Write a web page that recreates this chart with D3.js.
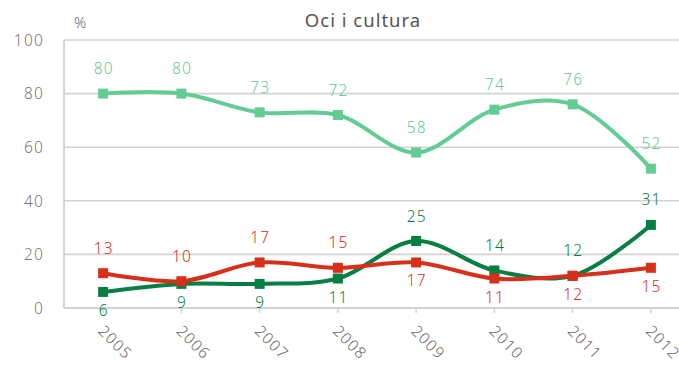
<!DOCTYPE html>
<html>
<head>
<meta charset="utf-8">
<script src="https://cdn.jsdelivr.net/npm/d3@7"></script>
<style>
  html, body { margin: 0; padding: 0; background: #fff; }
  svg { display: block; font-family: "Noto Sans", "DejaVu Sans", sans-serif; font-weight: 300; }
</style>
</head>
<body>
<svg id="chart" width="679" height="365"></svg>
<script>
// Categories and series
const years = ["2005", "2006", "2007", "2008", "2009", "2010", "2011", "2012"];
const lightGreen = [80, 80, 73, 72, 58, 74, 76, 52];
const darkGreen = [6, 9, 9, 11, 25, 14, 12, 31];
const red = [13, 10, 17, 15, 17, 11, 12, 15];
// label placement per point: 1 = above, -1 = below
const lightGreenPos = [1, 1, 1, 1, 1, 1, 1, 1];
const darkGreenPos = [-1, -1, -1, -1, 1, 1, 1, 1];
const redPos = [1, 1, 1, 1, -1, -1, -1, -1];
const yTicks = [0, 20, 40, 60, 80, 100];

// drawing order: later series sit on top
const series = [
  { values: lightGreen, pos: lightGreenPos, color: "#62cc94" },
  { values: darkGreen, pos: darkGreenPos, color: "#077e44" },
  { values: red, pos: redPos, color: "#d7301a" }
];

const svg = d3.select("#chart");
const plotLeft = 64, plotRight = 690, plotTop = 40, plotBottom = 308;
const fs = 15.5, ls = 1.2;

const x = d3.scalePoint().domain(years).range([plotLeft, plotRight]).padding(0.5);
const y = d3.scaleLinear().domain([0, 100]).range([plotBottom, plotTop]);

// title and unit
svg.append("text").attr("x", 363).attr("y", 27).attr("text-anchor", "middle")
  .attr("font-size", 18.5).attr("font-weight", 400).attr("letter-spacing", 1)
  .attr("fill", "#555").text("Oci i cultura");
svg.append("text").attr("x", 80).attr("y", 28).attr("text-anchor", "middle")
  .attr("font-size", 15).attr("fill", "#666").text("%");

// horizontal gridlines
svg.append("g").selectAll("line").data(yTicks).join("line")
  .attr("x1", plotLeft).attr("x2", 679)
  .attr("y1", d => y(d)).attr("y2", d => y(d))
  .attr("stroke", "#d3d3d3").attr("stroke-width", d => d === 0 ? 2.2 : 1.6);

// vertical axis line
svg.append("line").attr("x1", plotLeft).attr("x2", plotLeft)
  .attr("y1", y(100)).attr("y2", y(0))
  .attr("stroke", "#d3d3d3").attr("stroke-width", 2);

// y tick labels
svg.append("g").selectAll("text").data(yTicks).join("text")
  .attr("x", 44).attr("y", d => y(d) + 5.7).attr("text-anchor", "end")
  .attr("font-size", fs).attr("letter-spacing", ls).attr("fill", "#777").text(d => d);

// x tick marks
svg.append("g").selectAll("line").data(years).join("line")
  .attr("x1", d => x(d)).attr("x2", d => x(d))
  .attr("y1", plotBottom).attr("y2", plotBottom + 5)
  .attr("stroke", "#d3d3d3").attr("stroke-width", 1.5);

// x labels rotated
svg.append("g").selectAll("text").data(years).join("text")
  .attr("transform", d => `translate(${x(d) - 6},${plotBottom + 24}) rotate(45)`)
  .attr("text-anchor", "start").attr("font-size", fs).attr("letter-spacing", ls)
  .attr("fill", "#666").text(d => d);

const line = d3.line()
  .x((d, i) => x(years[i]))
  .y(d => y(d))
  .curve(d3.curveCatmullRom.alpha(0.5));

series.forEach(s => {
  const g = svg.append("g");
  g.append("path").datum(s.values).attr("d", line)
    .attr("fill", "none").attr("stroke", s.color).attr("stroke-width", 4)
    .attr("stroke-linejoin", "round");
  g.selectAll("rect").data(s.values).join("rect")
    .attr("x", (d, i) => x(years[i]) - 5).attr("y", d => y(d) - 5)
    .attr("width", 10).attr("height", 10).attr("fill", s.color);
  g.selectAll("text").data(s.values).join("text")
    .attr("x", (d, i) => x(years[i]) + ls / 2)
    .attr("y", (d, i) => s.pos[i] > 0 ? y(d) - 19.5 : y(d) + 24)
    .attr("text-anchor", "middle").attr("font-size", fs).attr("font-weight", 350)
    .attr("letter-spacing", ls).attr("fill", s.color).text(d => d);
});
</script>
</body>
</html>
